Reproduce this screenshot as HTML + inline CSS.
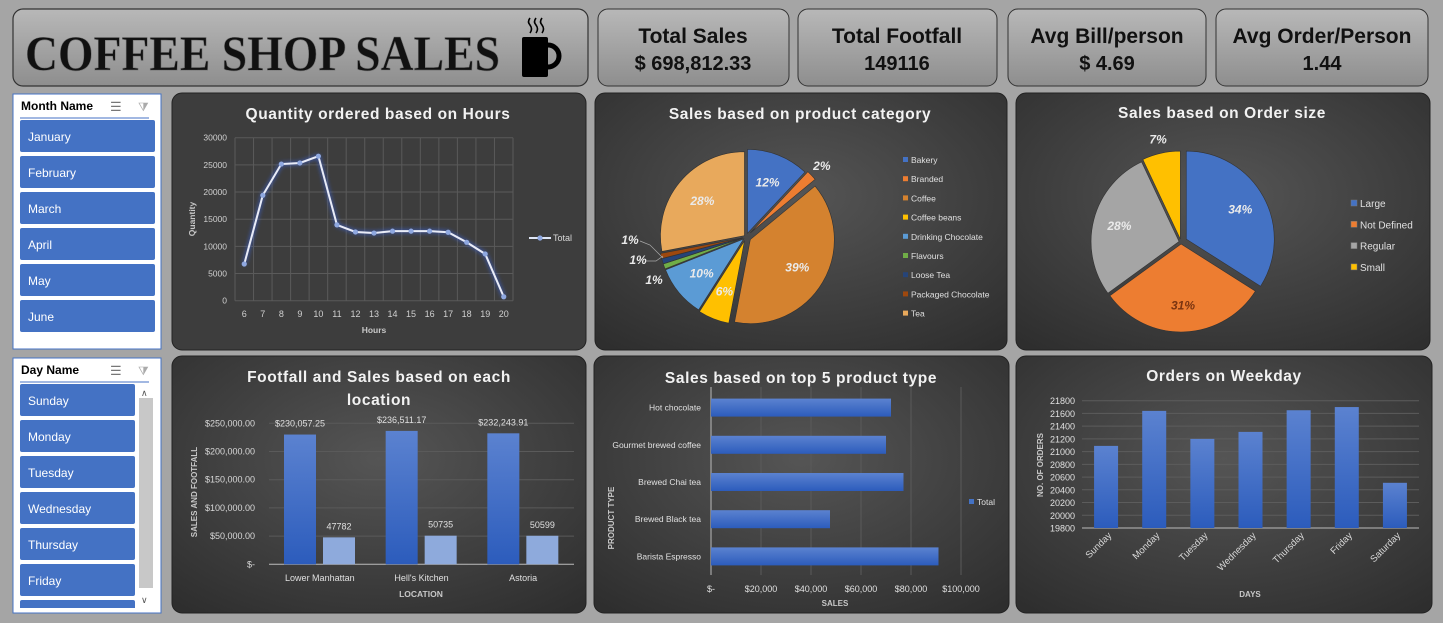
<!DOCTYPE html>
<html><head><meta charset="utf-8">
<style>
html,body{margin:0;padding:0;background:#a5a5a5;}
svg{display:block;font-family:"Liberation Sans",sans-serif;}
</style></head>
<body>
<svg id="dash" width="1443" height="623" viewBox="0 0 1443 623" xmlns="http://www.w3.org/2000/svg">
<defs>
<linearGradient id="gHead" x1="0" y1="0" x2="0" y2="1"><stop offset="0" stop-color="#b8b8b8"/><stop offset="1" stop-color="#8e8e8e"/></linearGradient>
<radialGradient id="gPanel" cx="0.5" cy="0.4" r="0.75"><stop offset="0" stop-color="#555555"/><stop offset="1" stop-color="#2e2e2e"/></radialGradient>
<linearGradient id="gBar" x1="0" y1="0" x2="0" y2="1"><stop offset="0" stop-color="#5b82d0"/><stop offset="1" stop-color="#2c5cbc"/></linearGradient>
<linearGradient id="gBarH" x1="0" y1="0" x2="0" y2="1"><stop offset="0" stop-color="#5b82d0"/><stop offset="1" stop-color="#2c5cbc"/></linearGradient>
<filter id="glow" x="-20%" y="-20%" width="140%" height="140%"><feGaussianBlur stdDeviation="2.5" result="b"/><feFlood flood-color="#3a6cff"/><feComposite in2="b" operator="in"/><feMerge><feMergeNode/><feMergeNode in="SourceGraphic"/></feMerge></filter>
<clipPath id="dayClip"><rect x="13" y="358" width="148" height="250"/></clipPath>
</defs>

<rect x="13" y="9" width="575" height="77" rx="10" fill="url(#gHead)" stroke="#333" stroke-width="1.2"/>
<text x="25" y="70" font-family="Liberation Serif,serif" font-weight="bold" font-size="50" fill="#111" stroke="#777" stroke-width="0.6" textLength="475" lengthAdjust="spacingAndGlyphs">COFFEE SHOP SALES</text>
<g>
<rect x="522" y="37" width="26" height="40" rx="2" fill="#000"/>
<path d="M548 45 a10 10 0 0 1 0 22" fill="none" stroke="#000" stroke-width="5"/>
<path d="M530 18 q-3 4 0 7 q3 4 0 8 M536 18 q-3 4 0 7 q3 4 0 8 M542 18 q-3 4 0 7 q3 4 0 8" fill="none" stroke="#000" stroke-width="1.6"/>
</g>

<g font-weight="bold" fill="#111" text-anchor="middle" font-size="21">
<rect x="598" y="9" width="191" height="77" rx="10" fill="url(#gHead)" stroke="#333"/>
<text x="693" y="43">Total Sales</text>
<text x="693" y="70" font-size="20">$ 698,812.33</text>
<rect x="798" y="9" width="199" height="77" rx="10" fill="url(#gHead)" stroke="#333"/>
<text x="897" y="43">Total Footfall</text>
<text x="897" y="70" font-size="20">149116</text>
<rect x="1008" y="9" width="198" height="77" rx="10" fill="url(#gHead)" stroke="#333"/>
<text x="1107" y="43">Avg Bill/person</text>
<text x="1107" y="70" font-size="20">$ 4.69</text>
<rect x="1216" y="9" width="212" height="77" rx="10" fill="url(#gHead)" stroke="#333"/>
<text x="1322" y="43">Avg Order/Person</text>
<text x="1322" y="70" font-size="20">1.44</text>
</g>

<g id="slicers"></g>

<rect x="172" y="93" width="414" height="257" rx="10" fill="#3d3d3d" stroke="#222"/>
<rect x="595" y="93" width="412" height="257" rx="10" fill="url(#gPanel)" stroke="#222"/>
<rect x="1016" y="93" width="414" height="257" rx="10" fill="url(#gPanel)" stroke="#222"/>
<rect x="172" y="356" width="414" height="257" rx="10" fill="url(#gPanel)" stroke="#222"/>
<rect x="594" y="356" width="415" height="257" rx="10" fill="url(#gPanel)" stroke="#222"/>
<rect x="1016" y="356" width="416" height="257" rx="10" fill="url(#gPanel)" stroke="#222"/>

<g font-weight="bold" fill="#f2f2f2" font-size="15.5" text-anchor="middle" letter-spacing="0.6">
<text x="378" y="119">Quantity ordered based on Hours</text>
<text x="800" y="119">Sales based on product category</text>
<text x="1222" y="118">Sales based on Order size</text>
<text x="379" y="382">Footfall and Sales based on each</text>
<text x="379" y="405">location</text>
<text x="801" y="383">Sales based on top 5 product type</text>
<text x="1224" y="381">Orders on Weekday</text>
</g>

<g id="hours"></g><g id="cat"></g><g id="ord"></g><g id="loc"></g><g id="prod"></g><g id="week"></g>
</svg>

<script>
const months = ["January","February","March","April","May","June"];
const days = ["Sunday","Monday","Tuesday","Wednesday","Thursday","Friday","Saturday"];
const hours = [6,7,8,9,10,11,12,13,14,15,16,17,18,19,20];
const hourQty = [6750,19400,25150,25350,26600,13950,12650,12450,12800,12800,12800,12600,10750,8600,730];
const hourTicks = [0,5000,10000,15000,20000,25000,30000];
const catNames = ["Bakery","Branded","Coffee","Coffee beans","Drinking Chocolate","Flavours","Loose Tea","Packaged Chocolate","Tea"];
const catPct = [12,2,39,6,10,1,1,1,28];
const catColors = ["#4472c4","#ed7d31","#d4822f","#ffc000","#5b9bd5","#70ad47","#264478","#9e480e","#e8a95c"];
const ordNames = ["Large","Not Defined","Regular","Small"];
const ordPct = [34,31,28,7];
const ordColors = ["#4472c4","#ed7d31","#a5a5a5","#ffc000"];
const locNames = ["Lower Manhattan","Hell's Kitchen","Astoria"];
const locSales = [230057.25,236511.17,232243.91];
const locFoot = [47782,50735,50599];
const locTicks = [0,50000,100000,150000,200000,250000];
const locTickLabels = ["$-","$50,000.00","$100,000.00","$150,000.00","$200,000.00","$250,000.00"];
const prodNames = ["Hot chocolate","Gourmet brewed coffee","Brewed Chai tea","Brewed Black tea","Barista Espresso"];
const prodSales = [72000,70000,77000,47600,91000];
const prodTicks = [0,20000,40000,60000,80000,100000];
const prodTickLabels = ["$-","$20,000","$40,000","$60,000","$80,000","$100,000"];
const weekOrders = [21090,21640,21200,21310,21650,21700,20510];
const weekTicks = [19800,20000,20200,20400,20600,20800,21000,21200,21400,21600,21800];

const NS="http://www.w3.org/2000/svg";
function mk(tag, attrs, parent, txt){const e=document.createElementNS(NS,tag);for(const k in attrs)e.setAttribute(k,attrs[k]);if(txt!==undefined)e.textContent=txt;parent.appendChild(e);return e;}

const sl=document.getElementById('slicers');
function slicer(x,y,w,h,title,items,bw,scroll,name){
  const box=mk('rect',{x:x,y:y,width:w,height:h,fill:'#fff',stroke:'#4472c4'},sl);
  
  
  const t=mk('text',{x:x+8,y:y+16,'font-size':12,'font-weight':'bold',fill:'#000'},sl,title);
  
  
  mk('line',{x1:x+7,y1:y+24,x2:x+w-12,y2:y+24,stroke:'#4472c4','stroke-width':1},sl);
  const ms=mk('text',{x:x+97,y:y+17,'font-size':13,fill:'#777'},sl,'☰');
  
  
  const cf=mk('text',{x:x+125,y:y+17,'font-size':12,fill:'#aaa'},sl,'⧩');
  
  
  const grp=mk('g',scroll?{'clip-path':'url(#dayClip)'}:{},sl);
  items.forEach((it,i)=>{
    const by=y+26+i*36;
    if(by>y+h){return;}
    const b=mk('rect',{x:x+7,y:by,width:bw,height:32,rx:2,fill:'#4472c4'},grp);
    
    
    mk('text',{x:x+15,y:by+21,'font-size':12,fill:'#fff'},grp,it);
  });
  if(scroll){
    const sb=mk('rect',{x:x+126,y:y+40,width:14,height:190,fill:'#c8c8c8'},sl);
    
    
    mk('text',{x:x+128,y:y+38,'font-size':9,fill:'#555'},sl,'∧');
    mk('text',{x:x+128,y:y+245,'font-size':9,fill:'#555'},sl,'∨');
  }
}
slicer(13,94,148,255,'Month Name',months,135,false,'month');
slicer(13,358,148,255,'Day Name',days,115,true,'day');

(function(){
 const g=document.getElementById('hours');
 const x0=235,x1=513,y0=300.7,y1=137.7;
 const step=(x1-x0)/hours.length;
 const X=i=>x0+step*(i+0.5), Y=v=>y0-(v/30000)*(y0-y1);
 hourTicks.forEach(t=>{
  mk('line',{x1:x0,x2:x1,y1:Y(t),y2:Y(t),stroke:'#5a5a5a'},g);
  mk('text',{x:x0-8,y:Y(t)+3,'font-size':8.5,fill:'#d0d0d0','text-anchor':'end'},g,String(t));
 });
 for(let i=0;i<=hours.length;i++) mk('line',{x1:x0+step*i,x2:x0+step*i,y1:y1,y2:y0,stroke:'#5a5a5a'},g);
 hours.forEach((h,i)=>mk('text',{x:X(i),y:317,'font-size':9,fill:'#d0d0d0','text-anchor':'middle'},g,String(h)));
 mk('text',{x:374,y:333,'font-size':8.5,'font-weight':'bold',fill:'#c8c8c8','text-anchor':'middle'},g,'Hours');
 mk('text',{x:0,y:0,'font-size':8.5,'font-weight':'bold',fill:'#c8c8c8','text-anchor':'middle',transform:'translate(195,219) rotate(-90)'},g,'Quantity');
 const pts=hourQty.map((v,i)=>X(i)+','+Y(v)).join(' ');
 const line=mk('polyline',{points:pts,fill:'none',stroke:'#e8ecf8','stroke-width':2,filter:'url(#glow)'},g);
 
 
 hourQty.forEach((v,i)=>{
  const c=mk('circle',{cx:X(i),cy:Y(v),r:2.6,fill:'#8fa8e0'},g);
  
  
 });
 mk('line',{x1:529,x2:551,y1:238,y2:238,stroke:'#dfe6f7','stroke-width':2},g);
 mk('circle',{cx:540,cy:238,r:2.6,fill:'#8fa8e0'},g);
 const lt=mk('text',{x:553,y:241,'font-size':9,fill:'#d8d8d8'},g,'Total');
 
 
})();

function pie(g,cx,cy,r,vals,cols,explode,labelFn,prefix){
 const tot=vals.reduce((a,b)=>a+b,0);let a=0;
 vals.forEach((v,i)=>{
  const a0=a,a1=a+v/tot*2*Math.PI;a=a1;
  const m=(a0+a1)/2, ex=explode[i]||0;
  const ox=Math.sin(m)*ex, oy=-Math.cos(m)*ex;
  const c=[cx+ox,cy+oy];
  const p0=[c[0]+r*Math.sin(a0),c[1]-r*Math.cos(a0)],p1=[c[0]+r*Math.sin(a1),c[1]-r*Math.cos(a1)];
  const large=(a1-a0)>Math.PI?1:0;
  const s=mk('path',{d:`M${c[0]},${c[1]} L${p0[0]},${p0[1]} A${r},${r} 0 ${large} 1 ${p1[0]},${p1[1]} Z`,fill:cols[i],stroke:'#333','stroke-width':0.6},g);
  
  
  labelFn(i,v,m,c);
 });
}

(function(){
 const g=document.getElementById('cat');
 const cx=746,cy=237,r=84;
 const smallPos=[[630,244],[638,264],[654,284]];let sp=0;
 pie(g,cx,cy,r,catPct,catColors,[4,6,5,4,3,3,3,3,2],(i,v,m,c)=>{
  let x,y;
  if(v>=5){x=c[0]+Math.sin(m)*r*0.65;y=c[1]-Math.cos(m)*r*0.65+4;}
  else if(v>=2){x=c[0]+Math.sin(m)*(r+14);y=c[1]-Math.cos(m)*(r+14)+4;}
  else {const q=smallPos[sp++];x=q[0];y=q[1];}
  mk('text',{x:x,y:y,'font-size':12,'font-weight':'bold','font-style':'italic',fill:'#eaeaea','text-anchor':'middle'},g,v+'%');
 },'category');
 mk('path',{d:'M640 241 L650 245 L663 258 M646 261 L656 261 L663 256',fill:'none',stroke:'#aaa','stroke-width':0.7},g);
 catNames.forEach((n,i)=>{
  const y=161+i*19.2;
  mk('rect',{x:903,y:y-4,width:5,height:5,fill:catColors[i]},g);
  const t=mk('text',{x:911,y:y+2,'font-size':8.5,fill:'#e0e0e0'},g,n);
  
  
 });
})();

(function(){
 const g=document.getElementById('ord');
 const cx=1181,cy=242,r=88;
 pie(g,cx,cy,r,ordPct,ordColors,[6,2,2,3],(i,v,m,c)=>{
  let x=c[0]+Math.sin(m)*r*0.7,y=c[1]-Math.cos(m)*r*0.7+4;
  if(v<10){x=c[0]+Math.sin(m)*(r+14);y=c[1]-Math.cos(m)*(r+14)+4;}
  mk('text',{x:x,y:y,'font-size':12,'font-weight':'bold','font-style':'italic',fill:i==1?'#7a3410':'#eaeaea','text-anchor':'middle'},g,v+'%');
 },'order-size');
 ordNames.forEach((n,i)=>{
  const y=204+i*21.3;
  mk('rect',{x:1351,y:y-4,width:6,height:6,fill:ordColors[i],stroke:'#777','stroke-width':0.5},g);
  const t=mk('text',{x:1360,y:y+3,'font-size':10,fill:'#e0e0e0'},g,n);
  
  
 });
})();

(function(){
 const g=document.getElementById('loc');
 const x0=269,x1=574,y0=564.3,y1=423.3;
 const Y=v=>y0-(v/250000)*(y0-y1);
 const gw=(x1-x0)/locNames.length;
 locTicks.forEach((t,i)=>{
  mk('line',{x1:x0,x2:x1,y1:Y(t),y2:Y(t),stroke:i==0?'#bbb':'#5a5a5a'},g);
  mk('text',{x:255,y:Y(t)+3,'font-size':9,fill:'#d8d8d8','text-anchor':'end'},g,locTickLabels[i]);
 });
 locNames.forEach((n,i)=>{
  const gx=x0+gw*i;
  const b1=mk('rect',{x:gx+15,y:Y(locSales[i]),width:32,height:y0-Y(locSales[i]),fill:'url(#gBar)'},g);
  
  
  const b2=mk('rect',{x:gx+54,y:Y(locFoot[i]),width:32,height:y0-Y(locFoot[i]),fill:'#8eaadc'},g);
  
  
  mk('text',{x:gx+31,y:Y(locSales[i])-8,'font-size':9,fill:'#e0e0e0','text-anchor':'middle'},g,'$'+locSales[i].toLocaleString('en-US',{minimumFractionDigits:2}));
  mk('text',{x:gx+70,y:Y(locFoot[i])-8,'font-size':9,fill:'#e0e0e0','text-anchor':'middle'},g,String(locFoot[i]));
  mk('text',{x:gx+gw/2,y:581,'font-size':9,fill:'#e0e0e0','text-anchor':'middle'},g,n);
 });
 mk('text',{x:421,y:597,'font-size':8.5,'font-weight':'bold',fill:'#c8c8c8','text-anchor':'middle'},g,'LOCATION');
 mk('text',{x:0,y:0,'font-size':8,'font-weight':'bold',fill:'#c8c8c8','text-anchor':'middle',transform:'translate(197,492) rotate(-90)'},g,'SALES AND FOOTFALL');
})();

(function(){
 const g=document.getElementById('prod');
 const x0=711,x1=961,y0=389,y1=575;
 const X=v=>x0+(v/100000)*(x1-x0);
 const rh=(y1-y0)/prodNames.length;
 prodTicks.forEach((t,i)=>{
  mk('line',{x1:X(t),x2:X(t),y1:y0-2,y2:y1,stroke:i==0?'#bbb':'#5a5a5a'},g);
  mk('text',{x:X(t),y:592,'font-size':9,fill:'#e0e0e0','text-anchor':'middle'},g,prodTickLabels[i]);
 });
 prodNames.forEach((n,i)=>{
  const cy=y0+rh*(i+0.5);
  const b=mk('rect',{x:x0,y:cy-9,width:X(prodSales[i])-x0,height:18,fill:'url(#gBarH)'},g);
  
  
  mk('text',{x:701,y:cy+3,'font-size':8.5,fill:'#e0e0e0','text-anchor':'end'},g,n);
 });
 mk('rect',{x:969,y:499,width:5,height:5,fill:'#4472c4'},g);
 mk('text',{x:977,y:505,'font-size':8.5,fill:'#e0e0e0'},g,'Total');
 mk('text',{x:835,y:606,'font-size':8,'font-weight':'bold',fill:'#c8c8c8','text-anchor':'middle'},g,'SALES');
 mk('text',{x:0,y:0,'font-size':8,'font-weight':'bold',fill:'#c8c8c8','text-anchor':'middle',transform:'translate(614,518) rotate(-90)'},g,'PRODUCT TYPE');
})();

(function(){
 const g=document.getElementById('week');
 const x0=1082,x1=1419,y0=528,y1=400.7;
 const Y=v=>y0-((v-19800)/2000)*(y0-y1);
 const cw=(x1-x0)/days.length;
 weekTicks.forEach((t,i)=>{
  mk('line',{x1:x0,x2:x1,y1:Y(t),y2:Y(t),stroke:i==0?'#bbb':'#5c5c5c'},g);
  mk('text',{x:1075,y:Y(t)+3.5,'font-size':9,fill:'#e0e0e0','text-anchor':'end'},g,String(t));
 });
 days.forEach((d,i)=>{
  const cx=x0+cw*(i+0.5);
  const b=mk('rect',{x:cx-12,y:Y(weekOrders[i]),width:24,height:y0-Y(weekOrders[i]),fill:'url(#gBar)'},g);
  
  
  mk('text',{x:0,y:0,'font-size':9.5,fill:'#d8d8d8','text-anchor':'end',transform:`translate(${cx+6},${536}) rotate(-45)`},g,d);
 });
 mk('text',{x:1250,y:597,'font-size':8,'font-weight':'bold',fill:'#c8c8c8','text-anchor':'middle'},g,'DAYS');
 mk('text',{x:0,y:0,'font-size':8,'font-weight':'bold',fill:'#c8c8c8','text-anchor':'middle',transform:'translate(1043,465) rotate(-90)'},g,'NO. OF ORDERS');
})();
</script>
</body></html>
